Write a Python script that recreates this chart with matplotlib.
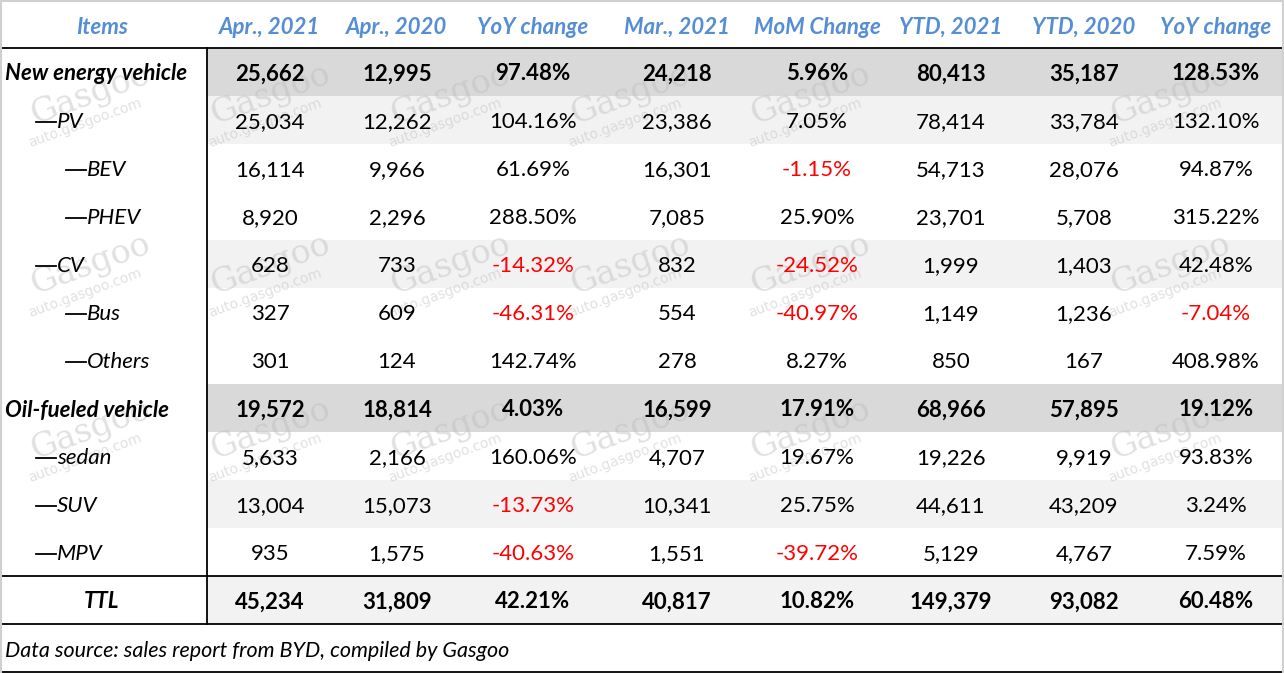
import matplotlib.pyplot as plt
from matplotlib.patches import Rectangle

# table content
headers = ["Items", "Apr., 2021", "Apr., 2020", "YoY change", "Mar., 2021",
           "MoM Change", "YTD, 2021", "YTD, 2020", "YoY change"]
items = ["New energy vehicle", "PV", "BEV", "PHEV", "CV", "Bus", "Others",
         "Oil-fueled vehicle", "sedan", "SUV", "MPV", "TTL"]
apr_2021 = ["25,662", "25,034", "16,114", "8,920", "628", "327", "301",
            "19,572", "5,633", "13,004", "935", "45,234"]
apr_2020 = ["12,995", "12,262", "9,966", "2,296", "733", "609", "124",
            "18,814", "2,166", "15,073", "1,575", "31,809"]
yoy_month = ["97.48%", "104.16%", "61.69%", "288.50%", "-14.32%", "-46.31%",
             "142.74%", "4.03%", "160.06%", "-13.73%", "-40.63%", "42.21%"]
mar_2021 = ["24,218", "23,386", "16,301", "7,085", "832", "554", "278",
            "16,599", "4,707", "10,341", "1,551", "40,817"]
mom = ["5.96%", "7.05%", "-1.15%", "25.90%", "-24.52%", "-40.97%", "8.27%",
       "17.91%", "19.67%", "25.75%", "-39.72%", "10.82%"]
ytd_2021 = ["80,413", "78,414", "54,713", "23,701", "1,999", "1,149", "850",
            "68,966", "19,226", "44,611", "5,129", "149,379"]
ytd_2020 = ["35,187", "33,784", "28,076", "5,708", "1,403", "1,236", "167",
            "57,895", "9,919", "43,209", "4,767", "93,082"]
yoy_ytd = ["128.53%", "132.10%", "94.87%", "315.22%", "42.48%", "-7.04%",
           "408.98%", "19.12%", "93.83%", "3.24%", "7.59%", "60.48%"]
source = "Data source: sales report from BYD, compiled by Gasgoo"

columns = [apr_2021, apr_2020, yoy_month, mar_2021, mom, ytd_2021, ytd_2020, yoy_ytd]
bold_rows = {0, 7, 11}
# indent level: 0 = top category, 1 = sub item, 2 = sub-sub item
level = {0: 0, 1: 1, 2: 2, 3: 2, 4: 1, 5: 2, 6: 2, 7: 0, 8: 1, 9: 1, 10: 1}
shade = {0: "#d9d9d9", 7: "#d9d9d9", 1: "#f2f2f2", 4: "#f2f2f2",
         9: "#f2f2f2", 11: "#f2f2f2"}

W, H = 1284, 673
col_x = [102, 270, 397, 533, 677, 817, 951, 1084, 1216]
row_h = 48
split_x = 207
FONT = "Lato"
FS = 16
DY = 2  # text baseline nudge

fig = plt.figure(figsize=(W / 100, H / 100), dpi=100)
ax = fig.add_axes([0, 0, 1, 1])
ax.set_xlim(0, W)
ax.set_ylim(H, 0)
ax.axis("off")

# row shading
for r, c in shade.items():
    y0 = row_h * (r + 1)
    ax.add_patch(Rectangle((split_x, y0), W - split_x, row_h, color=c, lw=0, zorder=0))

# faint watermarks
for wy in [95, 265, 430]:
    for wx in [90, 270, 450, 630, 810, 1170]:
        ax.text(wx, wy, "Gasgoo", fontsize=24, family="DejaVu Serif", color="#bdbdbd",
                rotation=20, ha="center", va="center", alpha=0.45, zorder=1)
        ax.text(wx - 5, wy + 28, "auto.gasgoo.com", fontsize=10, family="DejaVu Sans",
                color="#bdbdbd", rotation=20, ha="center", va="center", alpha=0.45, zorder=1)

# grid lines
for y in [48, 576, 624, 672]:
    ax.plot([0, W], [y, y], color="black", lw=1.3, zorder=3)
ax.plot([split_x, split_x], [48, 624], color="black", lw=1.3, zorder=3)
ax.plot([0.5, 0.5], [0, H], color="#d0d0d0", lw=1.5, zorder=3)
ax.plot([W - 1.5, W - 1.5], [0, H], color="#d0d0d0", lw=1.5, zorder=3)
ax.plot([0, W], [0.8, 0.8], color="#d0d0d0", lw=1.5, zorder=3)

# header
for x, h in zip(col_x, headers):
    ax.text(x, 25 + DY, h, fontsize=FS, family=FONT, weight="bold", style="italic",
            color="#558ed5", ha="center", va="center", zorder=4)

# body
for r, name in enumerate(items):
    yc = row_h * (r + 1) + 24 + DY
    wt = "bold" if r in bold_rows else "normal"
    if r == 11:
        ax.text(col_x[0], yc, name, fontsize=FS, family=FONT, weight=wt,
                style="italic", ha="center", va="center", zorder=4)
    elif level[r] == 0:
        ax.text(5, yc, name, fontsize=FS, family=FONT, weight=wt,
                style="italic", ha="left", va="center", zorder=4)
    else:
        x0 = 36 if level[r] == 1 else 66
        ax.plot([x0, x0 + 20], [yc, yc], color="black", lw=1.3, zorder=4)
        ax.text(x0 + 21, yc, name, fontsize=FS, family=FONT, weight=wt,
                style="italic", ha="left", va="center", zorder=4)
    for x, col in zip(col_x[1:], columns):
        v = col[r]
        color = "#ff0000" if v.startswith("-") else "black"
        ax.text(x, yc, v, fontsize=FS, family=FONT, weight=wt, color=color,
                ha="center", va="center", zorder=4)

ax.text(5, 649 + DY, source, fontsize=FS - 0.5, family=FONT, style="italic",
        ha="left", va="center", zorder=4)

fig.savefig("out.png", dpi=100)
